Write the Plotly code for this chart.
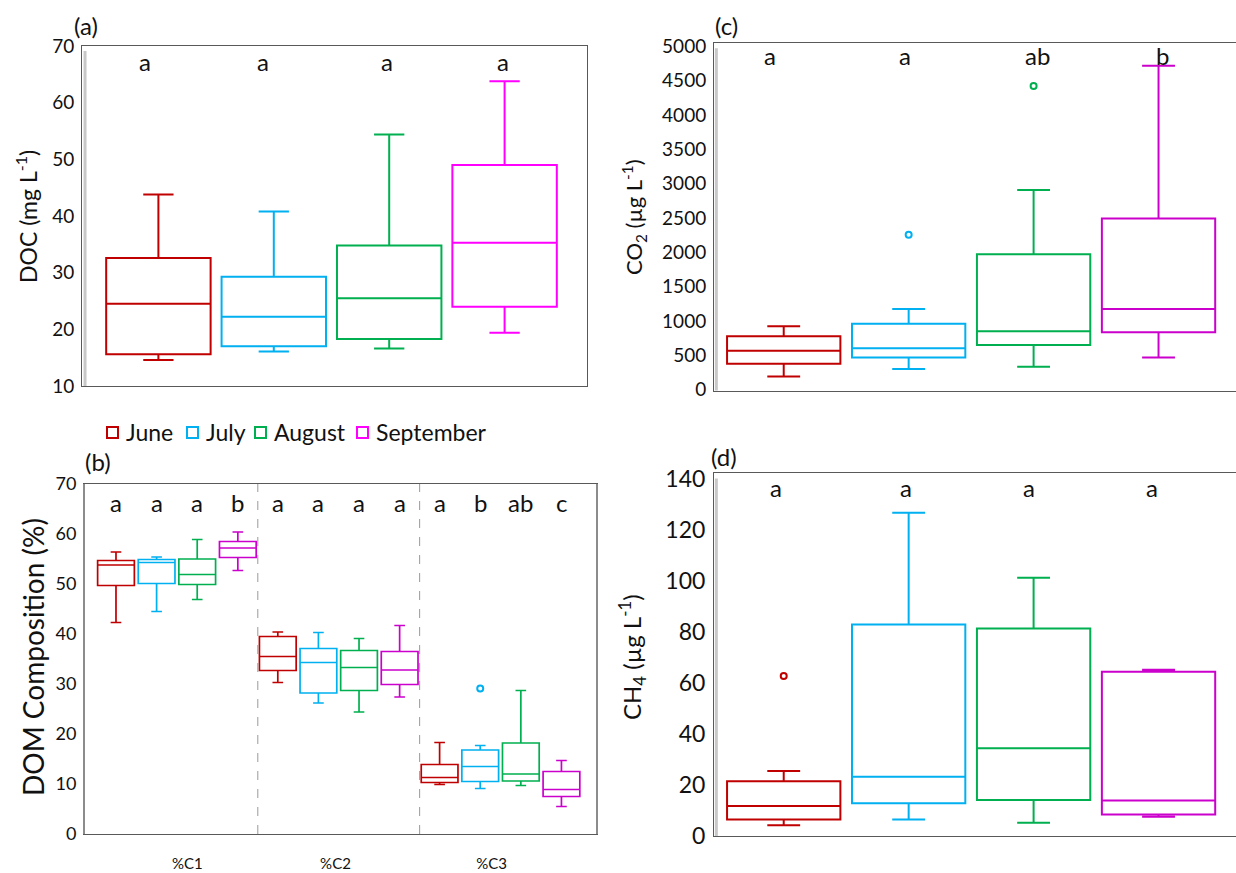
import plotly.graph_objects as go

# ---------------- data ----------------
months = ["June", "July", "August", "September"]
colors_a = ["#C00000", "#00B0F0", "#00B050", "#FF00FF"]
colors_bcd = ["#C00000", "#00B0F0", "#00B050", "#CC00CC"]

# (a) DOC (mg L-1)
doc_low = [14.6, 16.1, 16.6, 19.4]
doc_q1 = [15.6, 17.0, 18.3, 24.0]
doc_med = [24.5, 22.2, 25.5, 35.3]
doc_q3 = [32.6, 29.3, 34.8, 49.0]
doc_high = [43.8, 40.8, 54.4, 63.8]
doc_letters = ["a", "a", "a", "a"]

# (b) DOM composition (%) : [month][component]
components = ["%C1", "%C2", "%C3"]
dom_low = [[42.3, 30.3, 9.9], [44.5, 26.2, 9.1], [46.9, 24.4, 9.7], [52.7, 27.4, 5.5]]
dom_q1 = [[49.7, 32.7, 10.3], [50.1, 28.2, 10.5], [49.9, 28.7, 10.6], [55.3, 29.9, 7.5]]
dom_med = [[53.8, 35.5, 11.3], [54.3, 34.3, 13.5], [51.9, 33.3, 12.0], [57.2, 32.8, 8.9]]
dom_q3 = [[54.7, 39.5, 13.9], [54.9, 37.1, 16.8], [55.0, 36.7, 18.2], [58.5, 36.5, 12.5]]
dom_high = [[56.4, 40.4, 18.3], [55.4, 40.3, 17.7], [58.9, 39.1, 28.7], [60.4, 41.7, 14.7]]
dom_out_month = [1]
dom_out_comp = [2]
dom_out_val = [29.1]
dom_letters = [["a", "a", "a", "b"], ["a", "a", "a", "a"], ["a", "b", "ab", "c"]]

# (c) CO2 (ug L-1)
co2_low = [190, 297, 331, 467]
co2_q1 = [375, 467, 648, 833]
co2_med = [565, 599, 847, 1173]
co2_q3 = [774, 959, 1972, 2493]
co2_high = [920, 1173, 2907, 4718]
co2_out_month = [1, 2]
co2_out_val = [2254, 4425]
co2_letters = ["a", "a", "ab", "b"]

# (d) CH4 (ug L-1)
ch4_low = [4.2, 6.5, 5.2, 7.6]
ch4_q1 = [6.5, 12.8, 14.1, 8.4]
ch4_med = [11.8, 23.2, 34.4, 13.9]
ch4_q3 = [21.5, 83.0, 81.4, 64.4]
ch4_high = [25.5, 126.8, 101.3, 65.2]
ch4_out_month = [0]
ch4_out_val = [62.8]
ch4_letters = ["a", "a", "a", "a"]

# ---------------- figure ----------------
W, H = 1236, 873
FONT = "Lato"
TXT = "#111111"
fig = go.Figure()

def px_x(p):
    return p / W

def px_y(p):
    return 1 - p / H

frame = "#595959"

def add_box(xs, lo, q1, med, q3, hi, color, xa, ya, width, name, lw=2):
    fig.add_trace(go.Box(
        x=xs, lowerfence=lo, q1=q1, median=med, q3=q3, upperfence=hi,
        width=width, whiskerwidth=0.29, boxpoints=False,
        line=dict(color=color, width=lw), fillcolor="rgba(255,255,255,0)",
        xaxis=xa, yaxis=ya, name=name, showlegend=False, hoverinfo="skip"))

def add_outliers(xs, ys, cols, xa, ya):
    fig.add_trace(go.Scatter(
        x=xs, y=ys, mode="markers",
        marker=dict(symbol="circle-open", size=6, color=cols, line=dict(width=2)),
        xaxis=xa, yaxis=ya, showlegend=False, hoverinfo="skip"))

pos4 = [0, 1, 2, 3]

# (a)
for i, m in enumerate(months):
    add_box([pos4[i]], [doc_low[i]], [doc_q1[i]], [doc_med[i]], [doc_q3[i]], [doc_high[i]],
            colors_a[i], "x", "y", 0.905, m)

# (b)
offs = [-0.3765, -0.1255, 0.1255, 0.3765]
for i, m in enumerate(months):
    xs = [c + offs[i] for c in range(len(components))]
    add_box(xs, dom_low[i], dom_q1[i], dom_med[i], dom_q3[i], dom_high[i],
            colors_bcd[i], "x2", "y2", 0.227, m, lw=1.7)
add_outliers([c + offs[m] for m, c in zip(dom_out_month, dom_out_comp)], dom_out_val,
             [colors_bcd[m] for m in dom_out_month], "x2", "y2")

# (c)
for i, m in enumerate(months):
    add_box([pos4[i]], [co2_low[i]], [co2_q1[i]], [co2_med[i]], [co2_q3[i]], [co2_high[i]],
            colors_bcd[i], "x3", "y3", 0.907, m)
add_outliers([pos4[m] for m in co2_out_month], co2_out_val,
             [colors_bcd[m] for m in co2_out_month], "x3", "y3")

# (d)
for i, m in enumerate(months):
    add_box([pos4[i]], [ch4_low[i]], [ch4_q1[i]], [ch4_med[i]], [ch4_q3[i]], [ch4_high[i]],
            colors_bcd[i], "x4", "y4", 0.907, m)
add_outliers([pos4[m] for m in ch4_out_month], ch4_out_val,
             [colors_bcd[m] for m in ch4_out_month], "x4", "y4")

def xax(domain, rng, **kw):
    d = dict(domain=domain, range=rng, showgrid=False, zeroline=False, showline=True,
             linecolor=frame, linewidth=1, mirror=True, showticklabels=False, ticks="",
             automargin=False, fixedrange=True)
    d.update(kw)
    return d

def yax(domain, rng, size, anchor, mirror=True, **kw):
    d = dict(domain=domain, range=rng, showgrid=False, zeroline=False, showline=True,
             linecolor=frame, linewidth=1, mirror=mirror, ticks="", anchor=anchor,
             tickfont=dict(family=FONT, size=size, color=TXT), automargin=False,
             fixedrange=True, ticklabelstandoff=3)
    d.update(kw)
    return d

# category label positions on the (b) axis (slightly off-centre, as in the original)
comp_label_dx = [0.065, -0.02, -0.055]

fig.update_layout(
    width=W, height=H, margin=dict(l=0, r=0, t=0, b=0, autoexpand=False),
    paper_bgcolor="white", plot_bgcolor="white", showlegend=False,
    font=dict(family=FONT, color=TXT),
    xaxis=xax([px_x(82), px_x(587)], [-0.662, 3.714], anchor="y"),
    yaxis=yax([px_y(386), px_y(46)], [10, 70], 19, "x", dtick=10),
    xaxis2=xax([px_x(85), px_x(596)], [-0.568, 2.59], anchor="y2", showticklabels=True,
               tickvals=[c + comp_label_dx[c] for c in range(len(components))], ticktext=components,
               tickfont=dict(family=FONT, size=15, color=TXT), ticklabelstandoff=16),
    yaxis2=yax([px_y(834), px_y(484)], [0, 70], 18, "x2", dtick=10, linecolor="#8c8c8c", linewidth=2),
    xaxis3=xax([px_x(714), 1.0], [-0.558, 3.62], anchor="y3"),
    yaxis3=yax([px_y(390.5), px_y(43)], [-15, 5050], 19, "x3", mirror=False, dtick=500),
    xaxis4=xax([px_x(714), 1.0], [-0.558, 3.62], anchor="y4"),
    yaxis4=yax([px_y(836), px_y(473)], [0, 142.4], 23, "x4", mirror=False, dtick=20),
)

# light inner edge next to the left axis of (a), (c), (d)
for xa, ya, dx in [("x", "y", 0.006), ("x3", "y3", 0.0045), ("x4", "y4", 0.0045)]:
    fig.add_shape(type="line", xref=xa + " domain", yref=ya + " domain", x0=dx, x1=dx, y0=0, y1=0.985,
                  line=dict(color="#c8c8c8", width=3))

ann = []
LET = 24
let_dx_a = [-0.115, -0.095, -0.02, -0.01]
let_dx_c = [-0.11, -0.03, 0.03, 0.03]
let_dx_d = [-0.065, -0.02, -0.04, -0.05]
# significance letters
for i in range(4):
    ann.append(dict(x=pos4[i] + let_dx_a[i], y=0.953, xref="x", yref="y domain", text=doc_letters[i],
                    showarrow=False, yanchor="middle", font=dict(family=FONT, size=LET)))
    ann.append(dict(x=pos4[i] + let_dx_c[i], y=0.965, xref="x3", yref="y3 domain", text=co2_letters[i],
                    showarrow=False, yanchor="middle", font=dict(family=FONT, size=LET)))
    ann.append(dict(x=pos4[i] + let_dx_d[i], y=0.959, xref="x4", yref="y4 domain", text=ch4_letters[i],
                    showarrow=False, yanchor="middle", font=dict(family=FONT, size=LET)))
for c in range(len(components)):
    for i in range(4):
        ann.append(dict(x=c + offs[i], y=0.946, xref="x2", yref="y2 domain", text=dom_letters[c][i],
                        showarrow=False, yanchor="middle", font=dict(family=FONT, size=LET)))

# panel labels
for txt, x, y in [("(a)", 86, 25), ("(b)", 98, 461), ("(c)", 726, 25), ("(d)", 724, 456)]:
    ann.append(dict(x=px_x(x), y=px_y(y), xref="paper", yref="paper", text=txt, showarrow=False,
                    xanchor="center", yanchor="middle", font=dict(family=FONT, size=24)))

# axis titles
for txt, x, y, s in [("DOC (mg L<sup>-1</sup>)", 26, 217, 23),
                     ("DOM Composition (%)", 33, 657, 28),
                     ("CO<sub>2</sub> (µg L<sup>-1</sup>)", 634, 217, 22),
                     ("CH<sub>4</sub> (µg L<sup>-1</sup>)", 632, 657, 24)]:
    ann.append(dict(x=px_x(x), y=px_y(y), xref="paper", yref="paper", text=txt, showarrow=False,
                    textangle=-90, xanchor="center", yanchor="middle", font=dict(family=FONT, size=s)))

# custom legend (month colour squares + names)
leg_sq_x = [107, 187, 255, 357]
for i, m in enumerate(months):
    fig.add_shape(type="rect", xref="paper", yref="paper",
                  x0=px_x(leg_sq_x[i]), x1=px_x(leg_sq_x[i] + 11),
                  y0=px_y(438), y1=px_y(427), line=dict(color=colors_a[i], width=2),
                  fillcolor="rgba(0,0,0,0)")
    ann.append(dict(x=px_x(leg_sq_x[i] + 17), y=px_y(432), xref="paper", yref="paper", text=m,
                    showarrow=False, xanchor="left", yanchor="middle",
                    font=dict(family=FONT, size=23, color=TXT)))
fig.update_layout(annotations=ann)

# dashed separators between component groups in (b)
for c in range(len(components) - 1):
    fig.add_shape(type="line", x0=c + 0.5, x1=c + 0.5, y0=0, y1=1, xref="x2", yref="y2 domain",
                  line=dict(color="#9a9a9a", width=1, dash="dash"))

fig.write_html("out.html")
